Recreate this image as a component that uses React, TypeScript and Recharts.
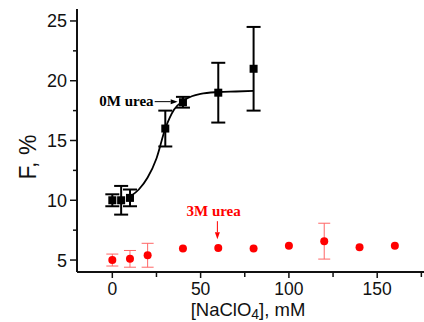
import React from 'react';
import {
  ComposedChart,
  Scatter,
  Line,
  XAxis,
  YAxis,
  ErrorBar,
  ReferenceLine,
  ReferenceDot,
} from 'recharts';

// 0M urea (black squares)
const conc0 = [0, 5, 10, 30, 40, 60, 80];
const f0 = [10.0, 10.0, 10.2, 16.0, 18.2, 19.0, 21.0];
const err0 = [0.5, 1.2, 0.7, 1.5, 0.45, 2.5, 3.5];

// 3M urea (red circles)
const conc3 = [0, 10, 20, 40, 60, 80, 100, 120, 140, 160];
const f3 = [5.0, 5.1, 5.4, 5.97, 6.0, 5.97, 6.2, 6.58, 6.08, 6.2];
const err3 = [0.5, 0.7, 1.0, null, null, null, null, 1.5, null, null];

// sigmoidal fit through 0M urea data
const fitX = [10, 15, 20, 25, 30, 35, 40, 45, 50, 60, 70, 80];
const fitY = [10.3, 10.9, 11.9, 13.5, 16.0, 17.6, 18.3, 18.7, 18.9, 19.05, 19.1, 19.15];

const xTicks = [0, 25, 50, 75, 100, 125, 150, 175];
const yTicks = [5, 7.5, 10, 12.5, 15, 17.5, 20, 22.5, 25];

const data0 = conc0.map((x, i) => ({ x, y: f0[i], err: err0[i] }));
const data3 = conc3.map((x, i) => ({ x, y: f3[i], err: err3[i] }));
const fitData = fitX.map((x, i) => ({ x, y: fitY[i] }));

const SANS = '"Liberation Sans", Arial, sans-serif';
const SERIF = '"Liberation Serif", "Times New Roman", serif';

const YTick = (props: any) => {
  const { x, y, payload } = props;
  const major = payload.value % 5 === 0;
  return (
    <g>
      <line x1={x} x2={x - (major ? 7 : 4)} y1={y} y2={y} stroke="#111" strokeWidth={1.5} />
      {major && (
        <text x={x - 10} y={y} dy="0.36em" textAnchor="end" fontSize={18} fontFamily={SANS} fill="#111">
          {payload.value}
        </text>
      )}
    </g>
  );
};

const XTick = (props: any) => {
  const { x, y, payload } = props;
  const major = payload.value % 50 === 0;
  return (
    <g>
      <line x1={x} x2={x} y1={y} y2={y + (major ? 6 : 5)} stroke="#111" strokeWidth={1.5} />
      {major && (
        <text x={x} y={y + 23} textAnchor="middle" fontSize={17.5} fontFamily={SANS} fill="#111">
          {payload.value}
        </text>
      )}
    </g>
  );
};

const arrow = (color: string, width: number) => (p: any) => {
  const { x1, y1, x2, y2 } = p;
  const a = Math.atan2(y2 - y1, x2 - x1);
  const len = 7;
  const hw = 2.5;
  const bx = x2 - len * Math.cos(a);
  const by = y2 - len * Math.sin(a);
  const px = -Math.sin(a) * hw;
  const py = Math.cos(a) * hw;
  return (
    <g>
      <line x1={x1} y1={y1} x2={bx} y2={by} stroke={color} strokeWidth={width} />
      <polygon points={`${x2},${y2} ${bx + px},${by + py} ${bx - px},${by - py}`} fill={color} />
    </g>
  );
};

const square = (p: any) => <rect x={p.cx - 4} y={p.cy - 4} width={8} height={8} fill="#000" />;
const dot = (p: any) => <circle cx={p.cx} cy={p.cy} r={4} fill="#ff0000" />;

const App = () => {
  return (
    <div style={{ position: 'absolute', left: 0, top: 0, background: '#fff' }}>
      <ComposedChart width={424} height={322} margin={{ top: 9, right: 0, bottom: 0, left: 0 }}>
        <XAxis
          type="number"
          dataKey="x"
          domain={[-20, 176.5]}
          ticks={xTicks}
          interval={0}
          height={50}
          tickSize={0}
          tickMargin={0}
          tick={<XTick />}
          axisLine={{ stroke: '#111', strokeWidth: 2 }}
          allowDataOverflow
          label={(props: any) => {
            const vb = props.viewBox;
            return (
              <text x={vb.x + 171} y={vb.y + 44} textAnchor="middle" fontSize={18.5} fontFamily={SANS} fill="#111">
                [NaClO
                <tspan fontSize={14} dy={3}>4</tspan>
                <tspan dy={-3}>], mM</tspan>
              </text>
            );
          }}
        />
        <YAxis
          type="number"
          domain={[4, 26]}
          ticks={yTicks}
          interval={0}
          width={77}
          tickSize={0}
          tickMargin={0}
          tick={<YTick />}
          axisLine={{ stroke: '#111', strokeWidth: 2 }}
          allowDataOverflow
          label={(props: any) => {
            const vb = props.viewBox;
            const cx = 36;
            const cy = vb.y + 148;
            return (
              <text
                x={cx}
                y={cy}
                textAnchor="middle"
                transform={`rotate(-90, ${cx}, ${cy})`}
                fontSize={23}
                fontFamily={SANS}
                fill="#111"
              >
                F, %
              </text>
            );
          }}
        />
        <Line
          data={fitData}
          dataKey="y"
          type="monotone"
          stroke="#000"
          strokeWidth={1.8}
          dot={false}
          activeDot={false}
          isAnimationActive={false}
        />
        <Scatter data={data0} dataKey="y" shape={square} isAnimationActive={false}>
          <ErrorBar dataKey="err" direction="y" width={7} stroke="#000" strokeWidth={2} />
        </Scatter>
        <Scatter data={data3} dataKey="y" shape={dot} isAnimationActive={false}>
          <ErrorBar dataKey="err" direction="y" width={6} stroke="#f66" strokeWidth={1} />
        </Scatter>
        <ReferenceLine
          segment={[{ x: 24, y: 18.25 }, { x: 37, y: 18.25 }]}
          shape={arrow('#000', 1)}
        />
        <ReferenceLine
          segment={[{ x: 59.5, y: 8.25 }, { x: 59.5, y: 6.75 }]}
          shape={arrow('#ff0000', 1)}
        />
        <ReferenceDot
          x={23.4}
          y={17.9}
          r={0}
          shape={(p: any) => (
            <text x={p.cx} y={p.cy} textAnchor="end" fontSize={15} fontWeight="bold" fontFamily={SERIF} fill="#000">
              0M urea
            </text>
          )}
        />
        <ReferenceDot
          x={42}
          y={8.67}
          r={0}
          shape={(p: any) => (
            <text x={p.cx} y={p.cy} textAnchor="start" fontSize={15} fontWeight="bold" fontFamily={SERIF} fill="#ff0000">
              3M urea
            </text>
          )}
        />
      </ComposedChart>
    </div>
  );
};

export default App;
